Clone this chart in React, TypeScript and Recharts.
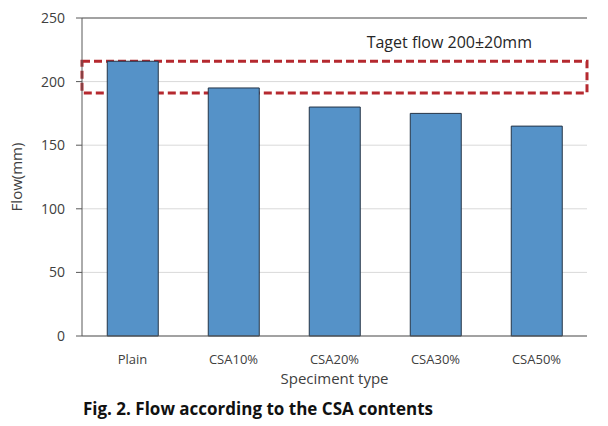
import React from 'react';
import {
  BarChart,
  Bar,
  XAxis,
  YAxis,
  CartesianGrid,
  ReferenceArea,
  ReferenceLine,
  Label,
} from 'recharts';

// Flow test results per specimen type
const specimens = ['Plain', 'CSA10%', 'CSA20%', 'CSA30%', 'CSA50%'];
const flowValues = [216, 195, 180, 175, 165];
const yTicks = [0, 50, 100, 150, 200, 250];

// target band shown as a dashed box
const targetLow = 191;
const targetHigh = 216;
const targetLabel = 'Taget flow 200±20mm';

const FONT = '"Open Sans", "Noto Sans", sans-serif';

const chartData = specimens.map((name, i) => ({ name, flow: flowValues[i] }));

export default function App() {
  return (
    <div
      style={{
        position: 'absolute',
        left: 0,
        top: 0,
        width: 608,
        height: 426,
        background: '#fff',
        fontFamily: FONT,
      }}
    >
      <BarChart
        width={608}
        height={390}
        data={chartData}
        margin={{ top: 18, right: 21, left: 32, bottom: 2 }}
        barCategoryGap="25%"
      >
        <CartesianGrid vertical={false} stroke="#d9d9d9" />
        <XAxis
          dataKey="name"
          height={52}
          tickLine={false}
          tickMargin={13}
          axisLine={{ stroke: '#595959' }}
          tick={{ fontSize: 13, fill: '#404040', fontFamily: FONT }}
        >
          <Label
            value="Speciment type"
            position="insideBottom"
            offset={4}
            style={{ fontSize: 15, fill: '#404040', fontFamily: FONT }}
          />
        </XAxis>
        <YAxis
          width={50}
          domain={[0, 250]}
          ticks={yTicks}
          interval={0}
          tickSize={6}
          tickMargin={11}
          axisLine={{ stroke: '#595959' }}
          tickLine={{ stroke: '#595959' }}
          tick={{ fontSize: 14, fill: '#404040', fontFamily: FONT }}
        >
          <Label
            value="Flow(mm)"
            angle={-90}
            position="insideLeft"
            offset={-15}
            style={{ fontSize: 15, fill: '#404040', fontFamily: FONT, textAnchor: 'middle' }}
          />
        </YAxis>
        <YAxis
          yAxisId="frame"
          orientation="right"
          width={0}
          domain={[0, 250]}
          tick={false}
          tickLine={false}
          axisLine={{ stroke: '#595959' }}
        />
        <ReferenceLine y={250} stroke="#595959" />
        <Bar
          dataKey="flow"
          fill="#5592c8"
          stroke="#243447"
          strokeWidth={1}
          isAnimationActive={false}
        />
        <ReferenceArea
          y1={targetLow}
          y2={targetHigh}
          fill="none"
          stroke="#b5292f"
          strokeWidth={3}
          strokeDasharray="8 4"
          ifOverflow="visible"
        >
          <Label
            value={targetLabel}
            position="insideTopRight"
            offset={0}
            dy={-25}
            dx={-55}
            style={{ fontSize: 16, fill: '#262626', fontFamily: FONT }}
          />
        </ReferenceArea>
      </BarChart>
      <div
        style={{
          position: 'absolute',
          left: 0,
          width: 516,
          top: 397,
          textAlign: 'center',
          fontSize: 17,
          fontWeight: 'bold',
          fontFamily: FONT,
          color: '#111',
        }}
      >
        Fig. 2. Flow according to the CSA contents
      </div>
    </div>
  );
}
